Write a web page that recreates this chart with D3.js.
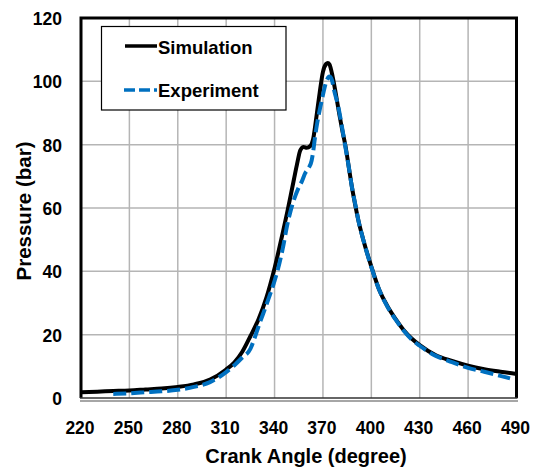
<!DOCTYPE html>
<html>
<head>
<meta charset="utf-8">
<script src="https://cdn.jsdelivr.net/npm/d3@7"></script>
<style>
  body { margin: 0; background: #fff; }
  text { font-family: "Liberation Sans", Arial, sans-serif; font-weight: bold; fill: #000; }
</style>
</head>
<body>
<div id="app"></div>
<script>
// crank angle (deg) and pressure (bar)
const simAngle = [220, 230, 240, 250, 260, 270, 280, 290, 300, 310, 315, 320, 325, 330, 335, 340, 345, 348, 350, 352, 354, 356, 358, 360, 362, 364, 366, 368, 370, 372, 373, 374, 376, 378, 380, 382, 384, 386, 388, 390, 392, 395, 400, 405, 410, 415, 420, 425, 430, 440, 450, 460, 470, 480, 490];
const simPressure = [1.8, 2.0, 2.2, 2.4, 2.7, 3.0, 3.5, 4.3, 5.8, 9.0, 11.2, 14.6, 19.5, 24.8, 31.8, 41, 52, 59, 64, 69, 74, 78.3, 79.3, 79, 79.5, 82, 89, 96.5, 103, 105.5, 105.8, 105.4, 101.5, 96, 90, 84.5, 79.5, 73, 66.5, 61, 56, 50, 41.5, 34, 29, 25, 21.5, 18.8, 16.7, 13.5, 11.7, 10.2, 9.1, 8.3, 7.6];

const expAngle = [240, 250, 260, 270, 280, 290, 300, 310, 315, 320, 325, 328, 330, 335, 340, 342, 345, 348, 351, 353, 355, 357, 359, 361, 363, 364, 365, 366.5, 368, 369.5, 371, 372.5, 374, 375.5, 377, 379.5, 382, 384, 386, 388, 390.5, 392, 395, 400, 405, 410, 415, 420, 425, 430, 440, 450, 460, 470, 480, 486];
const expPressure = [1.3, 1.5, 1.8, 2.1, 2.6, 3.5, 5.0, 8.2, 10.3, 12.8, 15.5, 19.5, 22.5, 29.5, 37, 40.5, 47, 55, 61, 64, 66.5, 68.5, 71, 72.5, 75, 78, 82, 87, 91, 94.5, 98, 100.5, 101.5, 100.5, 97, 92, 85, 79, 73, 66.5, 60, 56, 50, 41.3, 34, 28.8, 24.8, 21.3, 18.5, 16.5, 13.3, 11.3, 9.5, 8.3, 7.0, 6.2];

const xTicks = [220, 250, 280, 310, 340, 370, 400, 430, 460, 490];
const yTicks = [0, 20, 40, 60, 80, 100, 120];

const width = 539;
const height = 470;
const margin = { top: 18, right: 22.5, bottom: 72, left: 81 };

const svg = d3.select('#app').append('svg')
    .attr('width', width).attr('height', height);

const x = d3.scaleLinear().domain([220, 490]).range([margin.left, width - margin.right]);
const y = d3.scaleLinear().domain([0, 120]).range([height - margin.bottom, margin.top]);

// grid
svg.append('g').selectAll('line').data(xTicks.slice(1, -1)).join('line')
    .attr('x1', d => x(d)).attr('x2', d => x(d))
    .attr('y1', y(0)).attr('y2', y(120))
    .attr('stroke', '#b5b5b5').attr('stroke-width', 1.5);
svg.append('g').selectAll('line').data(yTicks.slice(1, -1)).join('line')
    .attr('x1', x(220)).attr('x2', x(490))
    .attr('y1', d => y(d)).attr('y2', d => y(d))
    .attr('stroke', '#b5b5b5').attr('stroke-width', 1.5);

// tick labels
svg.append('g').selectAll('text').data(xTicks).join('text')
    .attr('x', d => x(d) - 1).attr('y', 434)
    .attr('text-anchor', 'middle').attr('font-size', 17.5)
    .text(d => d);
svg.append('g').selectAll('text').data(yTicks).join('text')
    .attr('x', 62).attr('y', d => y(d) + 7)
    .attr('text-anchor', 'end').attr('font-size', 17.5)
    .text(d => d);

// axis titles
svg.append('text').attr('x', 306).attr('y', 463)
    .attr('text-anchor', 'middle').attr('font-size', 20)
    .text('Crank Angle (degree)');
svg.append('text')
    .attr('transform', 'translate(31,211) rotate(-90)')
    .attr('text-anchor', 'middle').attr('font-size', 20.5)
    .text('Pressure (bar)');

// legend
const lg = svg.append('g');
lg.append('rect').attr('x', 101.5).attr('y', 26.5).attr('width', 184.5).attr('height', 83.5)
    .attr('fill', '#fff').attr('stroke', '#000').attr('stroke-width', 1.2);
lg.append('line').attr('x1', 125).attr('x2', 157).attr('y1', 46).attr('y2', 46)
    .attr('stroke', '#000').attr('stroke-width', 3.5);
lg.append('line').attr('x1', 124).attr('x2', 157).attr('y1', 90).attr('y2', 90)
    .attr('stroke', '#0070c0').attr('stroke-width', 3.5).attr('stroke-dasharray', '11 4');
lg.append('text').attr('x', 158).attr('y', 54).attr('font-size', 18.5).text('Simulation');
lg.append('text').attr('x', 158).attr('y', 97).attr('font-size', 18.5).text('Experiment');

// curves
const line = d3.line().x(d => x(d[0])).y(d => y(d[1])).curve(d3.curveMonotoneX);
svg.append('path')
    .datum(d3.zip(simAngle, simPressure))
    .attr('fill', 'none').attr('stroke', '#000').attr('stroke-width', 4)
    .attr('stroke-linejoin', 'round')
    .attr('d', line);
svg.append('path')
    .datum(d3.zip(expAngle, expPressure))
    .attr('fill', 'none').attr('stroke', '#0070c0').attr('stroke-width', 4)
    .attr('stroke-dasharray', '13 5')
    .attr('d', line);

// frame
svg.append('path')
    .attr('d', `M${x(220)},${y(0)}V${y(120)}H${x(490)}V${y(0)}`)
    .attr('fill', 'none').attr('stroke', '#000').attr('stroke-width', 3);
svg.append('line').attr('x1', x(220) - 1).attr('x2', x(490) + 1)
    .attr('y1', y(0)).attr('y2', y(0))
    .attr('stroke', '#333').attr('stroke-width', 1.5);
svg.append('line').attr('x1', x(220) - 1).attr('x2', x(490) + 1.5)
    .attr('y1', y(0) + 3).attr('y2', y(0) + 3)
    .attr('stroke', '#888').attr('stroke-width', 1.5);
</script>
</body>
</html>
